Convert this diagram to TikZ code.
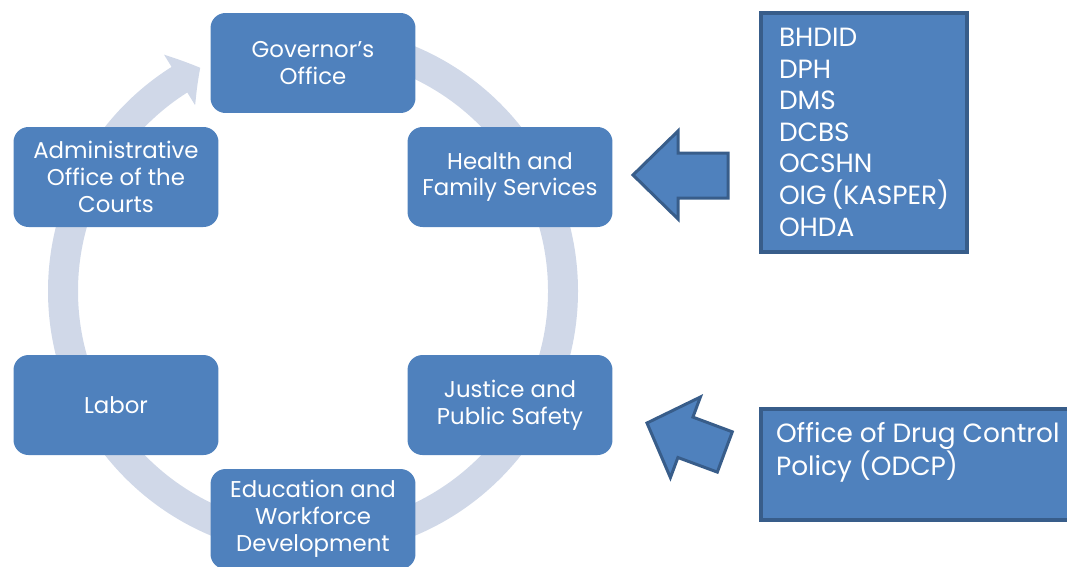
\documentclass[tikz,border=0pt]{standalone}
\usepackage{fontspec}
\setmainfont{Poppins}
\usetikzlibrary{arrows.meta,bending}
\definecolor{boxblue}{RGB}{79,129,189}
\definecolor{boxline}{RGB}{56,93,138}
\definecolor{ringgray}{RGB}{208,216,232}
\setlength{\lineskiplimit}{-10pt}
\tikzset{>=stealth}
\tikzset{
  unit/.style={fill=boxblue, rounded corners=0.3cm, minimum width=4.1cm,
    minimum height=2cm, text=white, align=center,
    font=\fontsize{13}{15.3}\selectfont},
  sidebox/.style={fill=boxblue, draw=boxline, line width=2.3pt, text=white,
    anchor=north west, font=\fontsize{15}{18}\selectfont},
  blockarrow/.style={fill=boxblue, draw=boxline, line width=1.7pt, line join=miter}
}

\begin{document}
\begin{tikzpicture}[x=0.02cm, y=-0.02cm]
    \useasboundingbox (0,0) rectangle (1067,566);
    \clip (0,0) rectangle (1067,566);
    \coordinate (hub) at (313,291);
    % cycle ring
    \begin{scope}[shift={(hub)}, x=0.02cm, y=0.02cm]
        \draw[ringgray, line width=0.6cm, -{Triangle[width=1.16cm, length=0.48cm, bend]}]
            (90:250) arc[start angle=90, end angle=-243.2, radius=250];
    \end{scope}
    \node[unit] (gov) at (313,63) {Governor’s\\Office};
    \node[unit] (hfs) at (510,177) {Health and\\Family Services};
    \node[unit] (jps) at (510,405) {Justice and\\Public Safety};
    \node[unit] (edu) at (313,519) {Education and\\Workforce\\Development};
    \node[unit] (labor) at (116,405) {Labor};
    \node[unit] (aoc) at (116,177) {Administrative\\Office of the\\Courts};
    % agencies
    \node[sidebox, inner xsep=0.36cm, inner ysep=0.3cm] (hfslist) at (759,11)
        {\parbox[c][4.18cm][t]{3.4cm}{BHDID\\DPH\\DMS\\DCBS\\OCSHN\\OIG~(KASPER)\\OHDA}};
    \node[sidebox, inner xsep=0.3cm, inner ysep=0.26cm] (odcp) at (759,407)
        {\parbox[c][1.7cm][t]{6.02cm}{Office of Drug Control\\Policy (ODCP)}};
    \draw[blockarrow] (633,175) -- (678,131) -- (678,153) -- (728,153)
        -- (728,198) -- (678,198) -- (678,219) -- cycle;
    \draw[blockarrow] (647,423) -- (700.4,397.0) -- (692.9,417.1) -- (732.3,431.8)
        -- (717.3,472.1) -- (677.9,457.5) -- (670.4,477.6) -- cycle;
\end{tikzpicture}
\end{document}
